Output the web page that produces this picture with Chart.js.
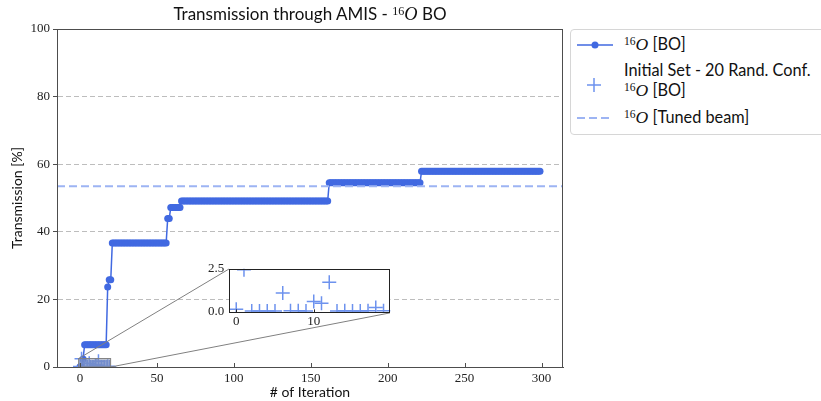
<!DOCTYPE html>
<html><head><meta charset="utf-8">
<script src="https://cdn.jsdelivr.net/npm/chart.js@4.4.1/dist/chart.umd.min.js"></script>
<style>
html,body{margin:0;padding:0;background:#fff;overflow:hidden}
#wrap{position:relative;width:821px;height:401px;overflow:hidden;font-family:Lato,'Liberation Sans',sans-serif;color:#111}
#main{position:absolute;left:0;top:0}
#inset{position:absolute}
#title{position:absolute;left:57px;width:506px;top:4px;text-align:center;font-size:17px;line-height:20px;white-space:nowrap}
.m{font-family:'Liberation Serif','DejaVu Serif',serif;font-size:1.08em}
.m sup{font-size:0.66em;vertical-align:0.45em;line-height:0}
.m i{font-style:italic}
#legend{position:absolute;left:570px;top:29px;width:280px;height:106px;border:1px solid #d6d6d6;border-radius:4px;box-sizing:border-box;background:#fff}
#legend .sym{position:absolute;left:5px;width:40px;height:20px}
#legend .txt{position:absolute;left:53px;font-size:16.3px;line-height:20px;white-space:nowrap}
</style>
</head><body>
<div id="wrap">
  <canvas id="main" width="821" height="401"></canvas>
  <canvas id="inset"></canvas>
  <div id="title">Transmission through AMIS - <span class="m"><sup>16</sup><i>O</i></span> BO</div>
  <div id="legend">
    <svg class="sym" style="top:5px" viewBox="0 0 40 20"><line x1="1" y1="10" x2="37" y2="10" stroke="#4169e1" stroke-width="1.5"/><circle cx="19" cy="10" r="3.5" fill="#4169e1"/></svg>
    <div class="txt" style="top:4px"><span class="m"><sup>16</sup><i>O</i></span> [BO]</div>
    <svg class="sym" style="top:45px" viewBox="0 0 40 20"><line x1="11" y1="10" x2="25" y2="10" stroke="#6d92ee" stroke-width="1.5"/><line x1="18" y1="3" x2="18" y2="17" stroke="#6d92ee" stroke-width="1.5"/></svg>
    <div class="txt" style="top:30px">Initial Set - 20 Rand. Conf.<br><span class="m"><sup>16</sup><i>O</i></span> [BO]</div>
    <svg class="sym" style="top:78px" viewBox="0 0 40 20"><line x1="1" y1="10" x2="37" y2="10" stroke="#9db4f3" stroke-width="2" stroke-dasharray="8 4"/></svg>
    <div class="txt" style="top:77px"><span class="m"><sup>16</sup><i>O</i></span> [Tuned beam]</div>
  </div>
</div>
<script>
// ---------------- data ----------------
const boTransmission = [
  0.1, 0.1, 2.4, 6.6, 6.6, 6.6, 6.6, 6.6, 6.6, 6.6,
  6.6, 6.6, 6.6, 6.6, 6.6, 6.6, 6.6, 6.6, 23.7, 25.8,
  25.8, 36.7, 36.7, 36.7, 36.7, 36.7, 36.7, 36.7, 36.7, 36.7,
  36.7, 36.7, 36.7, 36.7, 36.7, 36.7, 36.7, 36.7, 36.7, 36.7,
  36.7, 36.7, 36.7, 36.7, 36.7, 36.7, 36.7, 36.7, 36.7, 36.7,
  36.7, 36.7, 36.7, 36.7, 36.7, 36.7, 36.7, 43.9, 43.9, 47.2,
  47.2, 47.2, 47.2, 47.2, 47.2, 47.2, 49.1, 49.1, 49.1, 49.1,
  49.1, 49.1, 49.1, 49.1, 49.1, 49.1, 49.1, 49.1, 49.1, 49.1,
  49.1, 49.1, 49.1, 49.1, 49.1, 49.1, 49.1, 49.1, 49.1, 49.1,
  49.1, 49.1, 49.1, 49.1, 49.1, 49.1, 49.1, 49.1, 49.1, 49.1,
  49.1, 49.1, 49.1, 49.1, 49.1, 49.1, 49.1, 49.1, 49.1, 49.1,
  49.1, 49.1, 49.1, 49.1, 49.1, 49.1, 49.1, 49.1, 49.1, 49.1,
  49.1, 49.1, 49.1, 49.1, 49.1, 49.1, 49.1, 49.1, 49.1, 49.1,
  49.1, 49.1, 49.1, 49.1, 49.1, 49.1, 49.1, 49.1, 49.1, 49.1,
  49.1, 49.1, 49.1, 49.1, 49.1, 49.1, 49.1, 49.1, 49.1, 49.1,
  49.1, 49.1, 49.1, 49.1, 49.1, 49.1, 49.1, 49.1, 49.1, 49.1,
  49.1, 49.1, 54.5, 54.5, 54.5, 54.5, 54.5, 54.5, 54.5, 54.5,
  54.5, 54.5, 54.5, 54.5, 54.5, 54.5, 54.5, 54.5, 54.5, 54.5,
  54.5, 54.5, 54.5, 54.5, 54.5, 54.5, 54.5, 54.5, 54.5, 54.5,
  54.5, 54.5, 54.5, 54.5, 54.5, 54.5, 54.5, 54.5, 54.5, 54.5,
  54.5, 54.5, 54.5, 54.5, 54.5, 54.5, 54.5, 54.5, 54.5, 54.5,
  54.5, 54.5, 54.5, 54.5, 54.5, 54.5, 54.5, 54.5, 54.5, 54.5,
  54.5, 54.5, 57.9, 57.9, 57.9, 57.9, 57.9, 57.9, 57.9, 57.9,
  57.9, 57.9, 57.9, 57.9, 57.9, 57.9, 57.9, 57.9, 57.9, 57.9,
  57.9, 57.9, 57.9, 57.9, 57.9, 57.9, 57.9, 57.9, 57.9, 57.9,
  57.9, 57.9, 57.9, 57.9, 57.9, 57.9, 57.9, 57.9, 57.9, 57.9,
  57.9, 57.9, 57.9, 57.9, 57.9, 57.9, 57.9, 57.9, 57.9, 57.9,
  57.9, 57.9, 57.9, 57.9, 57.9, 57.9, 57.9, 57.9, 57.9, 57.9,
  57.9, 57.9, 57.9, 57.9, 57.9, 57.9, 57.9, 57.9, 57.9, 57.9,
  57.9, 57.9, 57.9, 57.9, 57.9, 57.9, 57.9, 57.9, 57.9, 57.9
];
const boIterations = boTransmission.map((_, i) => i);
const initIterations = [0, 1, 2, 3, 4, 5, 6, 7, 8, 9, 10, 11, 12, 13, 14, 15, 16, 17, 18, 19];
const initTransmission = [0.15, 2.45, 0.04, 0.04, 0.04, 0.04, 1.09, 0.06, 0.06, 0.04, 0.6, 0.5, 1.72, 0.04, 0.06, 0.04, 0.04, 0.05, 0.25, 0.05];
const tunedBeam = 53.5;
const xTicks = [0, 50, 100, 150, 200, 250, 300];
const yTicks = [0, 20, 40, 60, 80, 100];
const xLimits = [-14.95, 313.95];
const yLimits = [0, 100];
const insetXTicks = [0, 10];
const insetYTicks = [0, 2.5];
const insetXLimits = [-0.9, 19.9];
const insetYLimits = [-0.04, 2.5];

// ---------------- styles ----------------
const BO = '#4169e1', INIT = '#6d92ee', TUNED = '#9db4f3', GRID = '#bdbdbd', FRAME = '#4d4d4d';
const SERIF = "'Liberation Serif','DejaVu Serif',serif";
const SANS = "Lato,'Liberation Sans',sans-serif";
const insetFrac = {left: 0.34, right: 0.658, top: 0.29, bottom: 0.16};

function insetRect(a) {
  const w = a.right - a.left, h = a.bottom - a.top;
  return {left: a.left + insetFrac.left * w, right: a.left + insetFrac.right * w,
          top: a.bottom - insetFrac.top * h, bottom: a.bottom - insetFrac.bottom * h};
}
const pts = (xs, ys) => xs.map((x, i) => ({x, y: ys[i]}));

const overlay = {
  id: 'overlay',
  afterDatasetsDraw(chart) {
    const {ctx, chartArea: a, scales: {x, y}} = chart;
    ctx.save();
    const bx0 = x.getPixelForValue(insetXLimits[0]), bx1 = x.getPixelForValue(insetXLimits[1]);
    const by0 = y.getPixelForValue(insetYLimits[1]), by1 = Math.min(y.getPixelForValue(insetYLimits[0]), a.bottom);
    ctx.fillStyle = 'rgba(128,128,128,0.3)';
    ctx.fillRect(bx0, by0, bx1 - bx0, by1 - by0);
    ctx.strokeStyle = '#808080'; ctx.lineWidth = 1;
    ctx.strokeRect(bx0, by0, bx1 - bx0, by1 - by0);
    const r = insetRect(a);
    ctx.beginPath();
    ctx.moveTo(bx0, by0); ctx.lineTo(r.left, r.top);
    ctx.moveTo(bx1, by1); ctx.lineTo(r.right, r.bottom);
    ctx.stroke();
    ctx.strokeStyle = FRAME; ctx.lineWidth = 1;
    ctx.strokeRect(Math.round(a.left) + 0.5, Math.round(a.top) + 0.5, Math.round(a.right - a.left) - 1, Math.round(a.bottom - a.top));
    ctx.beginPath();
    x.ticks.forEach(t => { const px = Math.round(x.getPixelForValue(t.value)) + 0.5; ctx.moveTo(px, a.bottom); ctx.lineTo(px, a.bottom - 4); });
    ctx.stroke();
    ctx.restore();
  }
};

const main = new Chart(document.getElementById('main'), {
  type: 'line',
  data: {datasets: [
    {label: 'Tuned beam', data: xLimits.map(x => ({x, y: tunedBeam})), borderColor: TUNED, borderWidth: 2,
     borderDash: [8, 4], pointRadius: 0, order: 1},
    {label: 'Initial Set', type: 'scatter', data: pts(initIterations, initTransmission), pointStyle: 'cross',
     pointRadius: 7, borderColor: INIT, pointBorderColor: INIT, pointBorderWidth: 1.5, borderWidth: 1.5, showLine: false, order: 2},
    {label: 'BO', data: pts(boIterations, boTransmission), borderColor: BO, backgroundColor: BO, borderWidth: 1.5,
     pointRadius: 3.5, pointBorderWidth: 0, pointBackgroundColor: BO, tension: 0, order: 3}
  ]},
  options: {
    responsive: false, maintainAspectRatio: false, animation: false,
    layout: {padding: {top: 29, right: 258, left: 0, bottom: 0}},
    plugins: {legend: {display: false}, tooltip: {enabled: false}, title: {display: false}},
    scales: {
      x: {type: 'linear', min: xLimits[0], max: xLimits[1],
        afterBuildTicks: s => { s.ticks = xTicks.map(v => ({value: v})); },
        afterFit: s => { s.height = 34; },
        ticks: {font: {family: SERIF, size: 13}, color: '#222', padding: 4, maxRotation: 0, autoSkip: false},
        grid: {display: false, drawTicks: false},
        border: {display: true, color: FRAME, width: 1},
        title: {display: true, text: '# of Iteration', font: {family: SANS, size: 14}, color: '#111', padding: {top: 0, bottom: 0}}},
      y: {type: 'linear', min: yLimits[0], max: yLimits[1],
        afterBuildTicks: s => { s.ticks = yTicks.map(v => ({value: v})); },
        afterFit: s => { s.width = 57; },
        ticks: {font: {family: SERIF, size: 13}, color: '#222', padding: 3},
        grid: {color: c => (c.tick && (c.tick.value === yLimits[0] || c.tick.value === yLimits[1])) ? 'rgba(0,0,0,0)' : GRID,
               lineWidth: 1, drawTicks: true, tickLength: 4, tickColor: FRAME, tickWidth: 1},
        border: {display: true, color: FRAME, width: 1, dash: [5, 3]},
        title: {display: true, text: 'Transmission [%]', font: {family: SANS, size: 14}, color: '#111', padding: {top: 9, bottom: 0}}}
    }
  },
  plugins: [overlay]
});

const insetDecor = {
  id: 'insetDecor',
  beforeDatasetsDraw(chart) {
    const {ctx, chartArea: a} = chart;
    ctx.save(); ctx.fillStyle = '#fff'; ctx.fillRect(a.left, a.top, a.right - a.left, a.bottom - a.top); ctx.restore();
  },
  afterDatasetsDraw(chart) {
    const {ctx, chartArea: a, scales: {x, y}} = chart;
    ctx.save();
    ctx.strokeStyle = '#222'; ctx.lineWidth = 1;
    ctx.strokeRect(Math.round(a.left) + 0.5, Math.round(a.top) + 0.5, Math.round(a.right - a.left) - 1, Math.round(a.bottom - a.top) - 1);
    ctx.beginPath();
    x.ticks.forEach(t => { const px = Math.round(x.getPixelForValue(t.value)) + 0.5; ctx.moveTo(px, a.bottom); ctx.lineTo(px, a.bottom - 3); });
    y.ticks.forEach(t => { const py = Math.round(y.getPixelForValue(t.value)) + 0.5; ctx.moveTo(a.left, py); ctx.lineTo(a.left + 3, py); });
    ctx.stroke();
    ctx.restore();
  }
};

function buildInset(L, T, W, H) {
  const cv = document.getElementById('inset');
  cv.width = W; cv.height = H;
  cv.style.left = L + 'px'; cv.style.top = T + 'px'; cv.style.width = W + 'px'; cv.style.height = H + 'px';
  return new Chart(cv, {
    type: 'scatter',
    data: {datasets: [{label: 'Initial Set', data: pts(initIterations, initTransmission), pointStyle: 'cross', pointRadius: 7,
      borderColor: INIT, pointBorderColor: INIT, pointBorderWidth: 1.5}]},
    options: {
      responsive: false, maintainAspectRatio: false, animation: false,
      layout: {padding: {top: 8, right: 4, left: 0, bottom: 0}},
      plugins: {legend: {display: false}, tooltip: {enabled: false}},
      scales: {
        x: {type: 'linear', min: insetXLimits[0], max: insetXLimits[1],
          afterBuildTicks: s => { s.ticks = insetXTicks.map(v => ({value: v})); },
          ticks: {font: {family: SERIF, size: 13}, color: '#222', padding: 1, maxRotation: 0, autoSkip: false},
          grid: {display: false, drawTicks: false}, border: {display: false}},
        y: {type: 'linear', min: insetYLimits[0], max: insetYLimits[1],
          afterBuildTicks: s => { s.ticks = insetYTicks.map(v => ({value: v})); },
          ticks: {font: {family: SERIF, size: 13}, color: '#222', padding: 5, callback: v => Number(v).toFixed(1)},
          grid: {display: false, drawTicks: false}, border: {display: false}}
      }
    },
    plugins: [insetDecor]
  });
}

const target = insetRect(main.chartArea);
let inset = buildInset(Math.round(target.left) - 30, Math.round(target.top) - 8, Math.round(target.right - target.left) + 34, Math.round(target.bottom - target.top) + 26);
const ia = inset.chartArea;
const W = Math.round((target.right - target.left) + (inset.width - (ia.right - ia.left)));
const H = Math.round((target.bottom - target.top) + (inset.height - (ia.bottom - ia.top)));
const L = Math.round(target.left - ia.left), T = Math.round(target.top - ia.top);
inset.destroy();
inset = buildInset(L, T, W, H);
</script>
</body></html>
